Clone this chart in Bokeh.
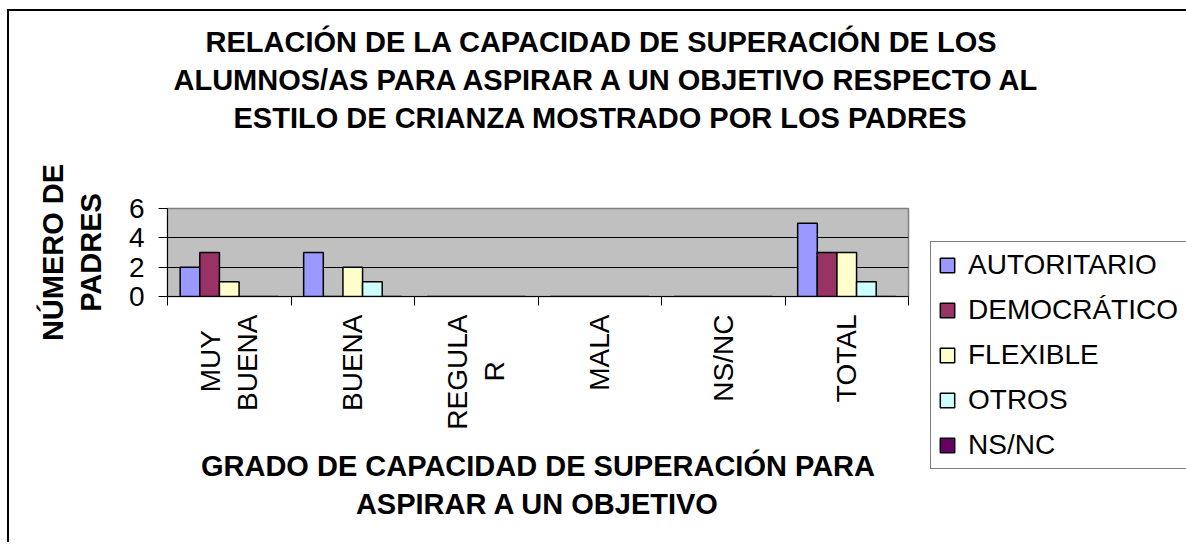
import math
from bokeh.plotting import figure
from bokeh.models import (Range1d, FixedTicker, Legend, LegendItem, Title,
                          ColumnDataSource)
from bokeh.embed import file_html
from bokeh.resources import INLINE

categories = ["MUY\u00a0\u00a0\nBUENA", "BUENA", "REGULA\nR\u00a0\u00a0\u00a0\u00a0\u00a0\u00a0",
              "MALA", "NS/NC", "TOTAL"]
series_names = ["AUTORITARIO", "DEMOCRÁTICO", "FLEXIBLE", "OTROS", "NS/NC"]
autoritario = [2, 3, 0, 0, 0, 5]
democratico = [3, 0, 0, 0, 0, 3]
flexible = [1, 2, 0, 0, 0, 3]
otros = [0, 1, 0, 0, 0, 1]
nsnc = [0, 0, 0, 0, 0, 0]
y_ticks = [0, 2, 4, 6]

title_lines = ["RELACIÓN DE LA CAPACIDAD DE SUPERACIÓN DE LOS",
               "ALUMNOS/AS PARA ASPIRAR A UN OBJETIVO RESPECTO AL",
               "ESTILO DE CRIANZA MOSTRADO POR LOS PADRES"]
title_offsets = [38, 6, 66]
x_title = "GRADO DE CAPACIDAD DE SUPERACIÓN PARA\nASPIRAR A UN OBJETIVO"
y_title = "NÚMERO DE\nPADRES"

series_values = [autoritario, democratico, flexible, otros, nsnc]
colors = ["#9999FF", "#993366", "#FFFFCC", "#CCFFFF", "#660066"]

FONT = "Liberation Sans"
n = len(categories)

p = figure(frame_width=741, frame_height=88, output_backend="svg", toolbar_location=None,
           x_range=Range1d(0, n), y_range=Range1d(0, 6),
           min_border_left=158, min_border_top=197, min_border_right=278,
           min_border_bottom=248)
p.styles = {"margin-left": "9px", "margin-top": "11px",
            "box-shadow": "-2px -2px 0px 0px black"}

p.background_fill_color = "#C0C0C0"
p.border_fill_color = "white"
p.outline_line_color = "#808080"
p.outline_line_width = 1.5

bar_w = 0.159
renderers = []
for k, (name, vals, col) in enumerate(zip(series_names, series_values, colors)):
    xs = [i + 0.5 + (k - 2) * bar_w for i in range(n)]
    src = ColumnDataSource(dict(x=xs, top=vals))
    r = p.vbar(x="x", top="top", width=bar_w, bottom=0, source=src,
               fill_color=col, line_color="black", line_width=1.5)
    renderers.append((name, r))

# axes
centers = [i + 0.5 for i in range(n)]
edges = list(range(n + 1))
p.xaxis.ticker = FixedTicker(ticks=centers, minor_ticks=edges)
p.xaxis.major_label_overrides = {c: lab for c, lab in zip(centers, categories)}
p.xaxis.major_tick_line_color = None
p.xaxis.major_tick_out = 0
p.xaxis.major_tick_in = 0
p.xaxis.minor_tick_line_color = "black"
p.xaxis.minor_tick_out = 9
p.xaxis.minor_tick_in = 0
p.xaxis.axis_line_color = "black"
p.xaxis.major_label_orientation = math.pi / 2
p.xaxis.major_label_standoff = 9
p.xaxis.major_label_text_font = FONT
p.xaxis.major_label_text_font_size = "28px"
p.xaxis.major_label_text_color = "black"
p.xaxis.axis_label = x_title
p.xaxis.axis_label_text_font = FONT
p.xaxis.axis_label_text_font_size = "29px"
p.xaxis.axis_label_text_font_style = "bold"
p.xaxis.axis_label_text_color = "black"
p.xaxis.axis_label_standoff = 17

p.yaxis.ticker = FixedTicker(ticks=y_ticks)
p.yaxis.major_tick_out = 9
p.yaxis.major_tick_in = 0
p.yaxis.minor_tick_line_color = None
p.yaxis.axis_line_color = "black"
p.yaxis.major_label_standoff = 14
p.yaxis.major_label_text_font = FONT
p.yaxis.major_label_text_font_size = "28px"
p.yaxis.major_label_text_color = "black"
p.yaxis.axis_label = y_title
p.yaxis.axis_label_text_font = FONT
p.yaxis.axis_label_text_font_size = "29px"
p.yaxis.axis_label_text_font_style = "bold"
p.yaxis.axis_label_text_color = "black"
p.yaxis.axis_label_standoff = 19

p.xgrid.grid_line_color = None
p.ygrid.ticker = FixedTicker(ticks=[t for t in y_ticks if 0 < t < max(y_ticks)])
p.ygrid.grid_line_color = "black"
p.ygrid.grid_line_width = 1

legend = Legend(items=[LegendItem(label=nm, renderers=[r]) for nm, r in renderers],
                location=(22, -173), orientation="vertical")
legend.label_text_font = FONT
legend.label_text_font_size = "28px"
legend.label_text_color = "black"
legend.glyph_width = 18
legend.glyph_height = 18
legend.label_height = 30
legend.label_width = 232
legend.spacing = 13
legend.padding = 7
legend.margin = 0
legend.label_standoff = 12
legend.border_line_color = "black"
legend.border_line_width = 1
legend.background_fill_color = "white"
legend.background_fill_alpha = 1
p.add_layout(legend, "right")

# spacer between the plot frame and the title block
p.add_layout(Title(text=" ", standoff=40, text_font=FONT, text_font_size="28px"), "above")
# title lines: added from the one nearest to the plot outwards
for txt, off in reversed(list(zip(title_lines, title_offsets))):
    t = Title(text=txt, align="left", offset=off, standoff=4,
              text_font=FONT, text_font_size="29px", text_font_style="bold",
              text_color="black")
    p.add_layout(t, "above")

open("out.html", "w").write(file_html(p, INLINE))
